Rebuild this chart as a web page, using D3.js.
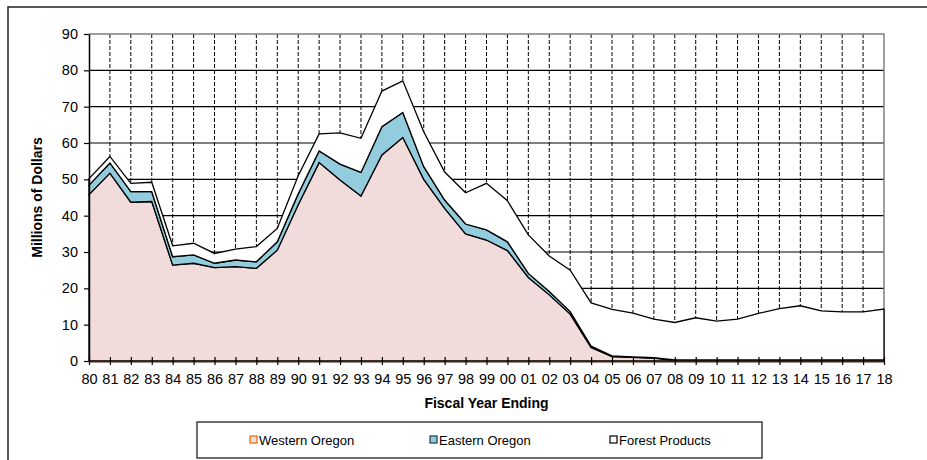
<!DOCTYPE html>
<html>
<head>
<meta charset="utf-8">
<script src="https://cdn.jsdelivr.net/npm/d3@7"></script>
<style>
  body { margin: 0; background: #fff; }
  text { font-family: "Liberation Sans", Arial, sans-serif; }
</style>
</head>
<body>
<div id="chart"></div>
<script>
// fiscal years, two digit labels
const years = ["80","81","82","83","84","85","86","87","88","89",
               "90","91","92","93","94","95","96","97","98","99",
               "00","01","02","03","04","05","06","07","08","09",
               "10","11","12","13","14","15","16","17","18"];

// millions of dollars per series (not stacked)
const westernOregon = [45.8, 51.7, 43.7, 43.9, 26.4, 26.9, 25.7, 26.0, 25.5, 30.5,
                       43.0, 54.6, 49.8, 45.4, 56.7, 61.5, 50.0, 42.0, 35.0, 33.3,
                       30.4, 23.0, 18.2, 12.9, 3.7, 1.2, 1.0, 0.8, 0.2, 0.2,
                       0.2, 0.2, 0.2, 0.2, 0.2, 0.2, 0.2, 0.2, 0.2];
const easternOregon = [2.6, 2.8, 2.9, 2.7, 2.3, 2.3, 1.2, 1.8, 1.8, 2.3,
                       3.0, 3.2, 4.4, 6.5, 7.8, 6.9, 3.5, 2.3, 2.7, 2.8,
                       2.4, 1.1, 0.9, 0.7, 0.4, 0.2, 0.1, 0.1, 0.1, 0.1,
                       0.1, 0.1, 0.1, 0.1, 0.1, 0.1, 0.1, 0.1, 0.1];
const forestProducts = [1.8, 1.8, 2.3, 2.6, 3.0, 3.2, 2.7, 3.0, 4.2, 3.7,
                        5.0, 4.7, 8.6, 9.4, 9.8, 8.7, 9.6, 7.7, 8.6, 12.8,
                        11.3, 10.6, 9.8, 11.4, 11.9, 12.8, 12.1, 10.6, 10.3, 11.6,
                        10.7, 11.2, 12.8, 14.1, 14.9, 13.5, 13.2, 13.2, 14.0];

const yTicks = [0, 10, 20, 30, 40, 50, 60, 70, 80, 90];
const seriesNames = ["Western Oregon", "Eastern Oregon", "Forest Products"];

const width = 927, height = 460;
const margin = { top: 34, right: 43, bottom: 99, left: 89 };
const fills = ["#f2dcdb", "#93cddd", "#ffffff"];

const table = years.map((y, i) => ({
    year: y,
    "Western Oregon": westernOregon[i],
    "Eastern Oregon": easternOregon[i],
    "Forest Products": forestProducts[i]
}));

const stacked = d3.stack().keys(seriesNames)(table);

const x = d3.scalePoint()
    .domain(years)
    .range([margin.left, width - margin.right]);

const y = d3.scaleLinear()
    .domain([0, 90])
    .range([height - margin.bottom, margin.top]);

const svg = d3.select("#chart")
    .append("svg")
    .attr("width", width)
    .attr("height", height);

// outer frame (top and left only visible)
svg.append("path")
    .attr("d", `M8,${height}V7H${width}`)
    .attr("fill", "none")
    .attr("stroke", "#222")
    .attr("stroke-width", 1.5);

// horizontal grid
svg.append("g")
    .selectAll("line")
    .data(yTicks.filter(d => d > 0 && d < 90))
    .join("line")
    .attr("x1", margin.left)
    .attr("x2", width - margin.right)
    .attr("y1", d => y(d))
    .attr("y2", d => y(d))
    .attr("stroke", "#000")
    .attr("stroke-width", 1.2);

// vertical dashed grid
svg.append("g")
    .selectAll("line")
    .data(years.slice(1, -1))
    .join("line")
    .attr("x1", d => x(d))
    .attr("x2", d => x(d))
    .attr("y1", y(90))
    .attr("y2", y(0))
    .attr("stroke", "#000")
    .attr("stroke-width", 1)
    .attr("stroke-dasharray", "4,2");

// plot border top / right
svg.append("path")
    .attr("d", `M${margin.left},${y(90)}H${width - margin.right}V${y(0)}`)
    .attr("fill", "none")
    .attr("stroke", "#808080")
    .attr("stroke-width", 1.5);

const area = d3.area()
    .x(d => x(d.data.year))
    .y0(d => y(d[0]))
    .y1(d => y(d[1]));

svg.append("g")
    .selectAll("path")
    .data(stacked)
    .join("path")
    .attr("d", area)
    .attr("fill", (d, i) => fills[i])
    .attr("stroke", "#000")
    .attr("stroke-width", 1.3)
    .attr("stroke-linejoin", "miter");

// y axis
svg.append("g")
    .attr("transform", `translate(${margin.left},0)`)
    .call(d3.axisLeft(y).tickValues(yTicks).tickSize(5).tickPadding(6).tickSizeOuter(0))
    .call(g => g.select(".domain").attr("stroke", "#000").attr("stroke-width", 1.5))
    .call(g => g.selectAll(".tick line").attr("stroke", "#000").attr("stroke-width", 1.2))
    .call(g => g.selectAll(".tick text")
        .attr("font-size", 14.5)
        .attr("fill", "#000")
        .style("font-family", "'Liberation Sans', Arial, sans-serif"));

// x axis
svg.append("g")
    .attr("transform", `translate(0,${y(0)})`)
    .call(d3.axisBottom(x).tickSize(4).tickPadding(9).tickSizeOuter(0))
    .call(g => g.select(".domain").attr("stroke", "#3b2314").attr("stroke-width", 2.2))
    .call(g => g.selectAll(".tick line").attr("y1", -4).attr("stroke", "#000").attr("stroke-width", 1.2))
    .call(g => g.selectAll(".tick text")
        .attr("font-size", 14.5)
        .attr("fill", "#000")
        .style("font-family", "'Liberation Sans', Arial, sans-serif"));

// axis titles
svg.append("text")
    .attr("transform", `translate(42,${(y(0) + y(90)) / 2}) rotate(-90)`)
    .attr("text-anchor", "middle")
    .attr("font-size", 14)
    .attr("font-weight", "bold")
    .text("Millions of Dollars");

svg.append("text")
    .attr("x", (margin.left + width - margin.right) / 2)
    .attr("y", 408)
    .attr("text-anchor", "middle")
    .attr("font-size", 14)
    .attr("font-weight", "bold")
    .text("Fiscal Year Ending");

// legend
const legend = svg.append("g");
legend.append("rect")
    .attr("x", 197).attr("y", 422)
    .attr("width", 565).attr("height", 36)
    .attr("fill", "#fff")
    .attr("stroke", "#222")
    .attr("stroke-width", 1.3);

const swatchStroke = ["#e46c0a", "#1a3a4a", "#000"];
const legendX = [250, 430, 610];
const item = legend.selectAll("g.item")
    .data(seriesNames)
    .join("g")
    .attr("class", "item")
    .attr("transform", (d, i) => `translate(${legendX[i]},440)`);
item.append("rect")
    .attr("x", 0).attr("y", -4)
    .attr("width", 7).attr("height", 7)
    .attr("fill", (d, i) => fills[i])
    .attr("stroke", (d, i) => swatchStroke[i])
    .attr("stroke-width", 1.2);
item.append("text")
    .attr("x", 9)
    .attr("y", 5)
    .attr("font-size", 13)
    .attr("fill", "#000")
    .text(d => d);
</script>
</body>
</html>
